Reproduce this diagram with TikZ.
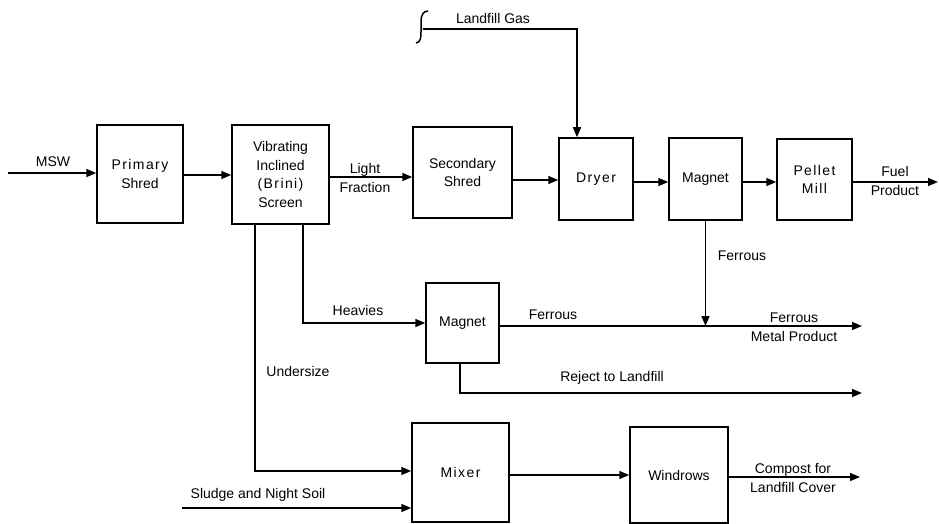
\documentclass[tikz,border=0pt]{standalone}
\usepackage{fontspec}
\setmainfont{Liberation Sans}
\newfontfamily\spacedfont[LetterSpace=10]{Liberation Sans}
\usetikzlibrary{arrows.meta}
\begin{document}
\begin{tikzpicture}[x=1pt,y=-1pt,
  every node/.style={font=\fontsize{14}{18.5}\selectfont, align=center, inner sep=0pt},
  box/.style={draw, line width=1.5pt},
  arr/.style={line width=1.5pt, -{Triangle[length=10pt,width=8pt]}},
  ln/.style={line width=1.5pt}]
\useasboundingbox (0,0) rectangle (939,524);
% boxes
\node[box, minimum width=86pt, minimum height=98pt] (prim) at (140,174) {{\spacedfont Primary}\\Shred};
\node[box, minimum width=97pt, minimum height=99pt] (scr) at (280.5,174.5) {Vibrating\\Inclined\\{\spacedfont (Brini)}\\Screen};
\node[box, minimum width=99pt, minimum height=91pt] (sec) at (462.5,172.5) {Secondary\\Shred};
\node[box, minimum width=74pt, minimum height=82pt] (dry) at (596,179) {{\spacedfont Dryer}};
\node[box, minimum width=73pt, minimum height=82pt] (mag1) at (705.5,179) {Magnet};
\node[box, minimum width=75pt, minimum height=81pt] (pel) at (814.5,179.5) {{\spacedfont Pellet}\\{\spacedfont Mill}};
\node[box, minimum width=73pt, minimum height=80pt] (mag2) at (462.5,323) {Magnet};
\node[box, minimum width=97pt, minimum height=99pt] (mix) at (460.5,472.5) {{\spacedfont Mixer}};
\node[box, minimum width=98pt, minimum height=96pt] (win) at (679,475) {Windrows};
% coordinates
\coordinate (msw) at (8,173);
\coordinate (y175) at (0,175);
\coordinate (y177) at (0,177);
\coordinate (y180) at (0,180);
\coordinate (y182) at (0,182);
\coordinate (fuel) at (938,182);
\coordinate (lg) at (423,29);
\coordinate (gt) at (577,29);
\coordinate (hx) at (303,0);
\coordinate (ux) at (255,0);
\coordinate (ue) at (0,471);
\coordinate (sl) at (182,508);
\coordinate (y475) at (0,475);
\coordinate (comp) at (860,477);
\coordinate (fe) at (862,326);
\coordinate (rx) at (460,0);
\coordinate (rej) at (862,393);
% connectors
\draw[arr] (msw) -- (prim.west |- msw);
\draw[arr] (prim.east |- y175) -- (scr.west |- y175);
\draw[arr] (scr.east |- y177) -- (sec.west |- y177);
\draw[arr] (sec.east |- y180) -- (dry.west |- y180);
\draw[arr] (dry.east |- y182) -- (mag1.west |- y182);
\draw[arr] (mag1.east |- y182) -- (pel.west |- y182);
\draw[arr] (pel.east |- y182) -- (fuel);
\draw[ln] (416,43) .. controls (421,42) and (421,38) .. (421,30) -- (421,22) .. controls (421,14) and (424,11) .. (428,11);
\draw[arr] (lg) -- (gt) -- (gt |- dry.north);
\draw[arr] (hx |- scr.south) |- (mag2.west);
\draw[arr] (ux |- scr.south) |- (mix.west |- ue);
\draw[arr] (sl) -- (mix.west |- sl);
\draw[arr] (mix.east |- y475) -- (win.west |- y475);
\draw[arr] (win.east |- comp) -- (comp);
\draw[arr] (mag2.east |- fe) -- (fe);
\draw[arr] (mag1.south) -- (mag1.south |- fe);
\draw[arr] (rx |- mag2.south) |- (rej);
% labels
\node (tmsw) at (53,162) {MSW};
\node (tlight) at (365,178) {Light\\Fraction};
\node (tgas) at (493,18) {Landfill Gas};
\node (tfuel) at (895,181) {Fuel\\Product};
\node (tfer1) at (742,256) {Ferrous};
\node (thev) at (358,310) {Heavies};
\node (tfer2) at (553,315) {Ferrous};
\node (tfmp) at (794,327) {Ferrous\\[1pt]Metal Product};
\node (tund) at (298,371) {Undersize};
\node (trej) at (612,378) {Reject to Landfill};
\node (tslu) at (258,495) {Sludge and Night Soil};
\node (tcomp) at (793,478) {Compost for\\Landfill Cover};
\end{tikzpicture}
\end{document}
